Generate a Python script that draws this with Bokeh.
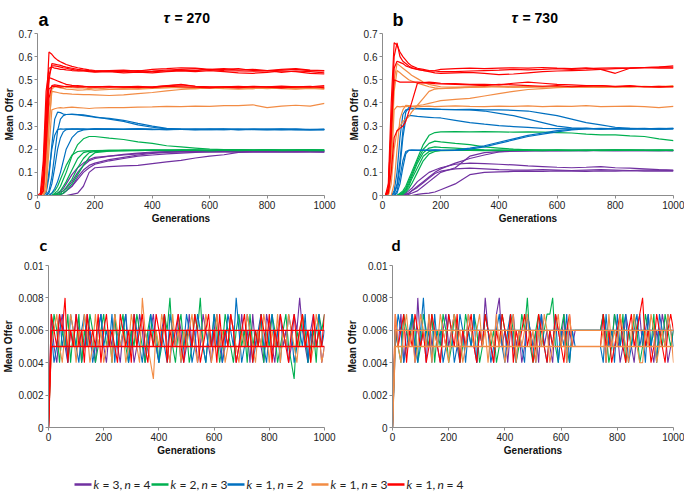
from bokeh.plotting import figure
from bokeh.layouts import column, row
from bokeh.models import Range1d, FixedTicker, CustomJSTickFormatter
from bokeh.core.properties import value
from bokeh.embed import file_html
from bokeh.resources import INLINE

# ---------------- data ----------------
GENS = [0, 10, 20, 30, 40, 50, 60, 70, 80, 90, 100,
        120, 140, 160, 180, 200,
        250, 300, 350, 400, 450, 500, 550, 600,
        650, 700, 750, 800, 850, 900, 950, 1000]

X_TICKS = [0, 200, 400, 600, 800, 1000]
Y_TICKS_TOP = [0, 0.1, 0.2, 0.3, 0.4, 0.5, 0.6, 0.7]
Y_TICKS_BOTTOM = [0, 0.002, 0.004, 0.006, 0.008, 0.01]

PANEL_LETTERS = ["a", "b", "c", "d"]
TAU_VALUES = ["270", "730"]
LEGEND_K = ["3", "2", "1", "1", "1"]
LEGEND_N = ["4", "3", "2", "3", "4"]

PURPLE, GREEN, BLUE, ORANGE, RED = "#7030A0", "#00B050", "#0070C0", "#F28C45", "#FF0000"
LEGEND_COLORS = [PURPLE, GREEN, BLUE, ORANGE, RED]

# panel a (tau = 270)
A_RED = [
    [0, 0, 0.08, 0.35, 0.62, 0.61, 0.595, 0.585, 0.578, 0.572, 0.566, 0.558, 0.552, 0.547, 0.543, 0.54, 0.536, 0.535, 0.54, 0.535, 0.538, 0.542, 0.54, 0.545, 0.54, 0.538, 0.537, 0.54, 0.532, 0.538, 0.535, 0.53],
    [0, 0, 0.02, 0.22, 0.5, 0.57, 0.568, 0.565, 0.562, 0.558, 0.555, 0.55, 0.545, 0.542, 0.54, 0.538, 0.54, 0.542, 0.538, 0.545, 0.548, 0.552, 0.55, 0.545, 0.548, 0.542, 0.545, 0.54, 0.545, 0.548, 0.542, 0.54],
    [0, 0, 0.05, 0.3, 0.52, 0.56, 0.56, 0.558, 0.555, 0.552, 0.55, 0.545, 0.54, 0.538, 0.535, 0.533, 0.535, 0.53, 0.533, 0.53, 0.535, 0.538, 0.535, 0.54, 0.535, 0.53, 0.528, 0.532, 0.538, 0.535, 0.528, 0.525],
    [0, 0.01, 0.15, 0.45, 0.55, 0.555, 0.55, 0.548, 0.545, 0.545, 0.543, 0.54, 0.538, 0.54, 0.537, 0.535, 0.538, 0.54, 0.536, 0.538, 0.542, 0.545, 0.548, 0.542, 0.545, 0.548, 0.54, 0.538, 0.542, 0.545, 0.54, 0.538],
    [0, 0, 0.1, 0.38, 0.51, 0.505, 0.5, 0.495, 0.49, 0.485, 0.48, 0.476, 0.473, 0.472, 0.47, 0.47, 0.468, 0.47, 0.472, 0.468, 0.475, 0.478, 0.472, 0.468, 0.47, 0.472, 0.468, 0.47, 0.473, 0.47, 0.468, 0.47],
    [0, 0, 0.04, 0.3, 0.46, 0.47, 0.472, 0.47, 0.468, 0.47, 0.472, 0.47, 0.468, 0.47, 0.468, 0.47, 0.472, 0.468, 0.47, 0.466, 0.472, 0.47, 0.468, 0.465, 0.47, 0.468, 0.472, 0.47, 0.466, 0.468, 0.47, 0.475],
    [0, 0, 0.02, 0.2, 0.42, 0.475, 0.478, 0.476, 0.474, 0.472, 0.47, 0.472, 0.475, 0.472, 0.47, 0.468, 0.47, 0.468, 0.466, 0.47, 0.474, 0.48, 0.472, 0.47, 0.468, 0.465, 0.47, 0.468, 0.465, 0.47, 0.472, 0.465],
]
A_ORANGE = [
    [0, 0, 0.01, 0.12, 0.38, 0.47, 0.472, 0.47, 0.468, 0.47, 0.468, 0.466, 0.465, 0.466, 0.462, 0.465, 0.46, 0.462, 0.46, 0.463, 0.465, 0.468, 0.466, 0.465, 0.468, 0.465, 0.462, 0.466, 0.465, 0.462, 0.465, 0.465],
    [0, 0, 0, 0.06, 0.3, 0.46, 0.47, 0.468, 0.465, 0.463, 0.46, 0.458, 0.455, 0.456, 0.458, 0.455, 0.458, 0.46, 0.462, 0.465, 0.468, 0.465, 0.462, 0.465, 0.462, 0.46, 0.462, 0.465, 0.462, 0.46, 0.463, 0.46],
    [0, 0, 0, 0.05, 0.3, 0.45, 0.448, 0.445, 0.442, 0.44, 0.44, 0.438, 0.437, 0.436, 0.436, 0.435, 0.432, 0.435, 0.44, 0.445, 0.452, 0.458, 0.462, 0.465, 0.465, 0.468, 0.465, 0.462, 0.465, 0.468, 0.465, 0.462],
    [0, 0, 0, 0.02, 0.2, 0.37, 0.375, 0.378, 0.38, 0.378, 0.38, 0.382, 0.38, 0.378, 0.376, 0.378, 0.38, 0.38, 0.382, 0.383, 0.385, 0.384, 0.386, 0.385, 0.388, 0.388, 0.392, 0.38, 0.386, 0.39, 0.386, 0.398],
]
A_BLUE = [
    [0, 0, 0, 0.01, 0.08, 0.22, 0.33, 0.36, 0.358, 0.352, 0.35, 0.352, 0.35, 0.348, 0.344, 0.34, 0.33, 0.32, 0.305, 0.295, 0.288, 0.286, 0.285, 0.286, 0.285, 0.287, 0.284, 0.286, 0.285, 0.287, 0.284, 0.285],
    [0, 0, 0, 0, 0.02, 0.08, 0.18, 0.28, 0.33, 0.345, 0.35, 0.35, 0.348, 0.345, 0.342, 0.338, 0.333, 0.325, 0.312, 0.3, 0.29, 0.287, 0.286, 0.285, 0.287, 0.285, 0.286, 0.285, 0.284, 0.286, 0.285, 0.285],
    [0, 0, 0, 0.02, 0.1, 0.2, 0.26, 0.285, 0.288, 0.287, 0.288, 0.287, 0.288, 0.286, 0.287, 0.288, 0.286, 0.287, 0.288, 0.286, 0.285, 0.287, 0.285, 0.286, 0.288, 0.285, 0.286, 0.287, 0.285, 0.286, 0.284, 0.286],
    [0, 0, 0, 0, 0.01, 0.05, 0.12, 0.2, 0.25, 0.275, 0.285, 0.288, 0.287, 0.288, 0.286, 0.287, 0.288, 0.286, 0.287, 0.285, 0.287, 0.286, 0.285, 0.288, 0.286, 0.285, 0.287, 0.286, 0.288, 0.285, 0.286, 0.285],
    [0, 0, 0, 0, 0, 0.01, 0.03, 0.06, 0.1, 0.15, 0.2, 0.25, 0.275, 0.283, 0.286, 0.288, 0.287, 0.286, 0.288, 0.287, 0.285, 0.286, 0.288, 0.286, 0.285, 0.287, 0.286, 0.285, 0.287, 0.286, 0.285, 0.287],
]
A_GREEN = [
    [0, 0, 0, 0, 0, 0, 0.01, 0.02, 0.04, 0.07, 0.1, 0.17, 0.22, 0.245, 0.255, 0.255, 0.248, 0.242, 0.232, 0.225, 0.215, 0.21, 0.205, 0.2, 0.198, 0.198, 0.197, 0.198, 0.196, 0.197, 0.198, 0.197],
    [0, 0, 0, 0, 0, 0.01, 0.02, 0.04, 0.07, 0.1, 0.13, 0.175, 0.19, 0.193, 0.193, 0.194, 0.195, 0.196, 0.195, 0.196, 0.195, 0.197, 0.196, 0.195, 0.197, 0.196, 0.195, 0.196, 0.197, 0.195, 0.196, 0.195],
    [0, 0, 0, 0, 0, 0, 0.005, 0.01, 0.02, 0.04, 0.06, 0.11, 0.16, 0.185, 0.192, 0.193, 0.195, 0.194, 0.196, 0.195, 0.197, 0.195, 0.196, 0.194, 0.195, 0.196, 0.195, 0.197, 0.195, 0.196, 0.194, 0.195],
    [0, 0, 0, 0, 0, 0, 0, 0.005, 0.01, 0.02, 0.035, 0.07, 0.12, 0.16, 0.185, 0.19, 0.193, 0.194, 0.195, 0.196, 0.194, 0.195, 0.197, 0.196, 0.195, 0.194, 0.196, 0.195, 0.196, 0.197, 0.195, 0.194],
    [0, 0, 0, 0, 0, 0, 0, 0, 0.005, 0.01, 0.02, 0.05, 0.09, 0.13, 0.165, 0.185, 0.192, 0.195, 0.194, 0.196, 0.195, 0.197, 0.195, 0.194, 0.196, 0.197, 0.195, 0.196, 0.194, 0.195, 0.197, 0.196],
]
A_PURPLE = [
    [0, 0, 0, 0, 0, 0, 0, 0.01, 0.015, 0.02, 0.03, 0.06, 0.1, 0.13, 0.15, 0.16, 0.17, 0.178, 0.183, 0.188, 0.19, 0.19, 0.189, 0.188, 0.19, 0.191, 0.189, 0.19, 0.188, 0.19, 0.189, 0.188],
    [0, 0, 0, 0, 0, 0, 0.005, 0.01, 0.02, 0.03, 0.05, 0.09, 0.12, 0.14, 0.155, 0.165, 0.17, 0.175, 0.18, 0.185, 0.188, 0.19, 0.19, 0.189, 0.19, 0.191, 0.19, 0.188, 0.19, 0.191, 0.19, 0.19],
    [0, 0, 0, 0, 0, 0, 0, 0, 0.005, 0.01, 0.02, 0.04, 0.07, 0.1, 0.12, 0.135, 0.15, 0.16, 0.17, 0.175, 0.18, 0.183, 0.186, 0.19, 0.189, 0.19, 0.188, 0.19, 0.191, 0.189, 0.19, 0.188],
    [0, 0, 0, 0, 0, 0, 0, 0, 0, 0, 0, 0.005, 0.01, 0.04, 0.1, 0.12, 0.125, 0.128, 0.13, 0.138, 0.145, 0.152, 0.162, 0.17, 0.176, 0.186, 0.19, 0.189, 0.19, 0.188, 0.19, 0.189],
    [0, 0, 0, 0, 0, 0, 0, 0, 0.005, 0.01, 0.02, 0.04, 0.08, 0.11, 0.13, 0.14, 0.155, 0.165, 0.175, 0.182, 0.186, 0.188, 0.19, 0.189, 0.19, 0.188, 0.19, 0.189, 0.19, 0.191, 0.189, 0.19],
]

# panel b (tau = 730)
B_RED = [
    [0, 0, 0.05, 0.4, 0.66, 0.65, 0.62, 0.6, 0.585, 0.57, 0.56, 0.55, 0.545, 0.54, 0.538, 0.535, 0.535, 0.538, 0.54, 0.542, 0.545, 0.543, 0.545, 0.548, 0.545, 0.548, 0.55, 0.552, 0.55, 0.553, 0.555, 0.555],
    [0, 0, 0.03, 0.3, 0.6, 0.66, 0.6, 0.58, 0.57, 0.56, 0.553, 0.545, 0.54, 0.535, 0.53, 0.528, 0.53, 0.532, 0.528, 0.522, 0.525, 0.53, 0.535, 0.538, 0.54, 0.542, 0.545, 0.548, 0.55, 0.552, 0.55, 0.55],
    [0, 0, 0.02, 0.25, 0.55, 0.58, 0.575, 0.57, 0.56, 0.555, 0.55, 0.545, 0.54, 0.538, 0.54, 0.545, 0.548, 0.55, 0.548, 0.55, 0.552, 0.55, 0.553, 0.55, 0.548, 0.552, 0.545, 0.528, 0.55, 0.553, 0.555, 0.56],
    [0, 0, 0.03, 0.3, 0.5, 0.495, 0.49, 0.49, 0.49, 0.49, 0.49, 0.49, 0.488, 0.49, 0.488, 0.485, 0.483, 0.48, 0.48, 0.478, 0.485, 0.49, 0.485, 0.48, 0.478, 0.475, 0.475, 0.472, 0.475, 0.47, 0.472, 0.47],
    [0, 0, 0.01, 0.1, 0.25, 0.28, 0.29, 0.3, 0.32, 0.36, 0.4, 0.485, 0.488, 0.485, 0.483, 0.482, 0.48, 0.478, 0.475, 0.48, 0.478, 0.475, 0.472, 0.475, 0.47, 0.472, 0.475, 0.47, 0.472, 0.47, 0.468, 0.47],
]
B_ORANGE = [
    [0, 0, 0.02, 0.2, 0.5, 0.57, 0.56, 0.55, 0.54, 0.53, 0.52, 0.505, 0.49, 0.48, 0.475, 0.47, 0.468, 0.47, 0.472, 0.47, 0.468, 0.47, 0.472, 0.47, 0.468, 0.47, 0.472, 0.47, 0.468, 0.47, 0.472, 0.47],
    [0, 0, 0.01, 0.15, 0.45, 0.54, 0.53, 0.52, 0.51, 0.5, 0.495, 0.485, 0.478, 0.47, 0.465, 0.462, 0.465, 0.468, 0.47, 0.472, 0.47, 0.468, 0.47, 0.472, 0.47, 0.468, 0.47, 0.468, 0.47, 0.472, 0.47, 0.475],
    [0, 0, 0, 0.05, 0.2, 0.28, 0.3, 0.32, 0.33, 0.34, 0.36, 0.39, 0.42, 0.45, 0.46, 0.463, 0.465, 0.467, 0.468, 0.47, 0.468, 0.47, 0.468, 0.47, 0.472, 0.47, 0.468, 0.47, 0.472, 0.47, 0.468, 0.472],
    [0, 0, 0, 0.1, 0.37, 0.385, 0.383, 0.385, 0.384, 0.386, 0.385, 0.383, 0.385, 0.386, 0.384, 0.385, 0.387, 0.385, 0.384, 0.386, 0.385, 0.387, 0.384, 0.386, 0.385, 0.388, 0.384, 0.385, 0.386, 0.384, 0.38, 0.385],
    [0, 0, 0, 0, 0.05, 0.2, 0.33, 0.37, 0.39, 0.388, 0.385, 0.388, 0.392, 0.398, 0.404, 0.41, 0.415, 0.42, 0.43, 0.44, 0.45, 0.458, 0.462, 0.466, 0.468, 0.47, 0.468, 0.47, 0.472, 0.47, 0.468, 0.47],
]
B_BLUE = [
    [0, 0, 0, 0, 0.02, 0.1, 0.25, 0.35, 0.37, 0.372, 0.375, 0.374, 0.373, 0.374, 0.372, 0.372, 0.371, 0.372, 0.37, 0.37, 0.368, 0.365, 0.355, 0.345, 0.33, 0.315, 0.305, 0.295, 0.29, 0.289, 0.288, 0.29],
    [0, 0, 0, 0, 0.01, 0.05, 0.15, 0.28, 0.36, 0.38, 0.378, 0.376, 0.375, 0.374, 0.373, 0.372, 0.371, 0.37, 0.365, 0.355, 0.345, 0.33, 0.315, 0.3, 0.292, 0.29, 0.288, 0.29, 0.287, 0.289, 0.288, 0.288],
    [0, 0, 0, 0, 0.01, 0.04, 0.12, 0.25, 0.33, 0.345, 0.345, 0.342, 0.34, 0.338, 0.336, 0.335, 0.325, 0.315, 0.308, 0.302, 0.298, 0.294, 0.29, 0.289, 0.288, 0.29, 0.287, 0.289, 0.288, 0.29, 0.287, 0.289],
    [0, 0, 0, 0, 0, 0.02, 0.08, 0.15, 0.19, 0.195, 0.196, 0.196, 0.195, 0.196, 0.197, 0.196, 0.195, 0.2, 0.21, 0.225, 0.24, 0.255, 0.265, 0.275, 0.283, 0.288, 0.29, 0.288, 0.29, 0.289, 0.288, 0.29],
    [0, 0, 0, 0, 0, 0.01, 0.05, 0.12, 0.18, 0.195, 0.196, 0.195, 0.196, 0.195, 0.196, 0.195, 0.196, 0.205, 0.215, 0.23, 0.245, 0.26, 0.27, 0.28, 0.286, 0.29, 0.288, 0.29, 0.289, 0.288, 0.29, 0.289],
]
B_GREEN = [
    [0, 0, 0, 0, 0, 0, 0.01, 0.02, 0.04, 0.07, 0.1, 0.16, 0.22, 0.26, 0.272, 0.275, 0.276, 0.275, 0.276, 0.275, 0.274, 0.275, 0.274, 0.272, 0.27, 0.265, 0.262, 0.262, 0.258, 0.255, 0.245, 0.237],
    [0, 0, 0, 0, 0, 0, 0.005, 0.015, 0.03, 0.06, 0.09, 0.15, 0.2, 0.225, 0.235, 0.232, 0.225, 0.22, 0.21, 0.205, 0.2, 0.197, 0.196, 0.195, 0.196, 0.195, 0.196, 0.197, 0.195, 0.196, 0.195, 0.196],
    [0, 0, 0, 0, 0, 0, 0.005, 0.01, 0.025, 0.05, 0.08, 0.14, 0.185, 0.205, 0.21, 0.208, 0.205, 0.2, 0.197, 0.196, 0.195, 0.196, 0.195, 0.197, 0.195, 0.196, 0.194, 0.195, 0.196, 0.195, 0.197, 0.195],
    [0, 0, 0, 0, 0, 0, 0, 0.01, 0.02, 0.04, 0.07, 0.12, 0.17, 0.19, 0.194, 0.195, 0.196, 0.195, 0.194, 0.196, 0.195, 0.197, 0.196, 0.195, 0.194, 0.196, 0.195, 0.197, 0.196, 0.195, 0.196, 0.194],
    [0, 0, 0, 0, 0, 0, 0, 0.005, 0.015, 0.03, 0.05, 0.1, 0.15, 0.18, 0.19, 0.194, 0.195, 0.196, 0.195, 0.194, 0.196, 0.195, 0.194, 0.196, 0.195, 0.194, 0.196, 0.195, 0.197, 0.195, 0.194, 0.196],
]
B_PURPLE = [
    [0, 0, 0, 0, 0, 0, 0, 0.005, 0.01, 0.02, 0.03, 0.06, 0.08, 0.1, 0.11, 0.12, 0.135, 0.14, 0.138, 0.135, 0.132, 0.128, 0.125, 0.122, 0.12, 0.122, 0.125, 0.12, 0.118, 0.115, 0.112, 0.11],
    [0, 0, 0, 0, 0, 0, 0, 0, 0.005, 0.01, 0.02, 0.04, 0.06, 0.08, 0.1, 0.115, 0.14, 0.16, 0.175, 0.188, 0.192, 0.193, 0.195, 0.194, 0.195, 0.194, 0.196, 0.195, 0.194, 0.195, 0.194, 0.195],
    [0, 0, 0, 0, 0, 0, 0, 0, 0, 0.005, 0.01, 0.02, 0.04, 0.06, 0.08, 0.1, 0.12, 0.17, 0.185, 0.19, 0.192, 0.193, 0.194, 0.193, 0.194, 0.195, 0.194, 0.193, 0.194, 0.195, 0.194, 0.193],
    [0, 0, 0, 0, 0, 0, 0, 0, 0, 0, 0, 0.005, 0.008, 0.01, 0.015, 0.025, 0.05, 0.09, 0.1, 0.102, 0.104, 0.105, 0.104, 0.106, 0.105, 0.104, 0.106, 0.105, 0.107, 0.105, 0.106, 0.105],
    [0, 0, 0, 0, 0, 0, 0, 0, 0.005, 0.01, 0.02, 0.035, 0.055, 0.075, 0.095, 0.105, 0.115, 0.118, 0.115, 0.112, 0.11, 0.11, 0.112, 0.11, 0.108, 0.11, 0.112, 0.11, 0.108, 0.11, 0.11, 0.108],
]

# panels c and d: mean offer every 10 generations, in thousandths
C_PURPLE = [0, 7, 5, 4, 6, 7, 5, 4, 6, 5, 7, 6, 4, 5, 7, 6, 5, 4, 6, 7, 5, 4, 6, 5, 7, 5, 4, 6, 7, 5, 6,
            4, 5, 7, 6, 4, 5, 6, 7, 5, 4, 6, 7, 5, 4, 6, 5, 7, 6, 4, 5, 7, 5, 6, 4, 5, 7, 6, 5, 4, 6,
            7, 5, 4, 6, 5, 7, 6, 4, 5, 7, 5, 6, 4, 7, 5, 6, 5, 4, 7, 6, 5, 4, 6, 7, 5, 6, 4, 5, 7, 6,
            8, 6, 5, 4, 6, 7, 5, 6, 4, 5]
C_GREEN = [0, 5, 7, 6, 4, 6, 5, 7, 4, 6, 5, 7, 4, 6, 5, 7, 6, 4, 5, 6, 7, 5, 6, 4, 7, 5, 6, 7, 5, 4, 6,
           5, 7, 6, 5, 4, 6, 7, 5, 6, 4, 5, 7, 6, 8, 5, 4, 6, 7, 5, 6, 4, 5, 7, 6, 8, 5, 4, 6, 5, 7,
           6, 4, 5, 7, 6, 5, 4, 6, 7, 5, 6, 4, 7, 5, 6, 5, 7, 4, 6, 5, 7, 6, 4, 5, 6, 7, 5, 4, 3, 6,
           5, 7, 6, 4, 5, 6, 4, 7, 6, 7]
C_BLUE = [0, 6, 4, 5, 7, 5, 6, 4, 7, 6, 5, 4, 6, 7, 5, 6, 4, 5, 6, 7, 5, 6, 5, 7, 4, 6, 5, 6, 7, 4, 5,
          7, 6, 5, 4, 6, 5, 7, 6, 5, 4, 6, 5, 4, 7, 6, 5, 6, 4, 5, 7, 6, 4, 5, 7, 6, 5, 4, 6, 5, 7,
          5, 6, 4, 5, 7, 6, 5, 8, 6, 4, 5, 7, 6, 4, 5, 6, 7, 5, 4, 6, 7, 5, 6, 4, 6, 5, 7, 6, 4, 5,
          6, 5, 7, 4, 6, 5, 6, 7, 5, 6]
C_ORANGE = [0, 5, 6, 7, 5, 4, 6, 5, 7, 6, 4, 6, 5, 7, 6, 4, 5, 7, 5, 6, 4, 5, 6, 4, 7, 6, 5, 6, 4, 5, 7,
            6, 5, 4, 8, 6, 5, 4, 3, 6, 5, 7, 6, 5, 4, 7, 5, 6, 4, 6, 5, 6, 7, 5, 4, 6, 5, 7, 6, 4, 5,
            7, 5, 6, 4, 5, 7, 6, 5, 4, 6, 5, 7, 6, 5, 4, 6, 5, 7, 6, 4, 6, 5, 7, 4, 6, 5, 7, 6, 5, 4,
            6, 7, 5, 6, 4, 5, 7, 6, 4, 5]
C_RED = [0, 7, 6, 5, 7, 6, 8, 4, 6, 5, 7, 5, 6, 4, 7, 5, 6, 5, 7, 4, 6, 7, 5, 6, 5, 4, 7, 6, 5, 6, 4,
         7, 5, 6, 7, 5, 4, 6, 5, 7, 6, 5, 7, 4, 6, 5, 6, 7, 5, 4, 6, 6, 5, 7, 6, 4, 5, 6, 7, 5, 6,
         4, 7, 5, 6, 5, 7, 6, 4, 5, 6, 7, 5, 6, 4, 6, 5, 7, 6, 5, 7, 4, 6, 5, 7, 6, 5, 4, 6, 7, 5,
         6, 7, 5, 6, 4, 7, 5, 6, 5, 7]
D_PURPLE = [0, 6, 5, 7, 4, 6, 5, 7, 4, 8, 5, 6, 4, 7, 5, 6, 5, 4, 6, 7, 5, 6, 7, 5, 4, 6, 5, 7, 6, 5, 4,
            6, 5, 8, 6, 5, 4, 7, 8, 5, 6, 4, 6, 7, 5, 6, 4, 5, 7, 6, 5, 6, 4, 7, 5, 6, 5, 4, 7, 6, 5,
            7, 4, 6, 5, 6, 6, 6, 6, 6, 6, 6, 6, 6, 6, 7, 4, 6, 5, 7, 6, 4, 5, 7, 6, 5, 4, 6, 7, 5, 6,
            7, 5, 4, 6, 5, 7, 6, 4, 5, 6]
D_BLUE = [0, 5, 7, 6, 4, 5, 6, 7, 5, 4, 6, 8, 5, 6, 4, 7, 5, 6, 4, 5, 7, 6, 4, 5, 7, 6, 4, 6, 5, 7, 4,
          6, 5, 7, 6, 4, 5, 6, 7, 5, 4, 6, 7, 5, 4, 6, 5, 4, 7, 6, 5, 4, 6, 7, 5, 4, 6, 5, 7, 4, 6,
          5, 7, 4, 6, 5, 5, 5, 5, 5, 5, 5, 5, 5, 5, 4, 7, 5, 6, 4, 7, 5, 6, 7, 4, 5, 6, 7, 5, 6, 4,
          7, 5, 6, 4, 7, 6, 5, 7, 6, 5]
D_GREEN = [0, 6, 5, 4, 7, 6, 5, 7, 6, 4, 5, 7, 6, 5, 7, 4, 6, 5, 7, 6, 4, 5, 7, 6, 4, 5, 7, 6, 5, 7, 6,
           4, 5, 7, 6, 5, 6, 4, 5, 7, 6, 5, 7, 6, 4, 5, 7, 6, 8, 5, 4, 6, 7, 5, 6, 7, 7, 8, 5, 4, 6,
           7, 5, 4, 6, 6, 6, 6, 6, 6, 6, 6, 6, 6, 6, 7, 6, 4, 5, 7, 6, 5, 7, 4, 6, 5, 7, 6, 4, 5, 7,
           6, 5, 7, 4, 6, 5, 7, 6, 5, 6]
D_RED = [0, 7, 5, 6, 7, 4, 6, 5, 7, 6, 5, 6, 4, 5, 7, 6, 5, 4, 6, 5, 7, 6, 5, 7, 4, 6, 5, 6, 7, 5, 4,
         6, 5, 7, 6, 5, 4, 6, 5, 7, 6, 5, 7, 4, 6, 5, 6, 7, 5, 6, 4, 5, 7, 6, 5, 4, 6, 5, 7, 6, 5,
         4, 6, 7, 5, 5, 5, 5, 5, 5, 5, 5, 5, 5, 5, 7, 5, 6, 4, 5, 6, 7, 5, 4, 6, 7, 5, 6, 7, 8, 5,
         6, 4, 5, 7, 6, 5, 4, 6, 7, 6]
D_ORANGE = [0, 7, 5, 4, 6, 7, 5, 6, 4, 5, 7, 6, 5, 7, 4, 6, 5, 7, 6, 5, 4, 6, 7, 5, 6, 4, 5, 7, 6, 5, 6,
            7, 5, 6, 4, 6, 5, 7, 5, 6, 4, 5, 6, 7, 4, 6, 5, 6, 7, 5, 6, 4, 6, 5, 7, 6, 4, 5, 6, 7, 5,
            6, 4, 7, 5, 5, 5, 5, 5, 5, 5, 5, 5, 5, 5, 6, 4, 7, 5, 6, 5, 7, 6, 5, 4, 6, 7, 5, 4, 4, 6,
            5, 7, 6, 4, 5, 6, 5, 7, 6, 4]

FLAT_GENS = [0, 10, 1000]
C_RED_FLAT = [[0, 0.005, 0.005], [0, 0.006, 0.006]]
D_BLUE_FLAT = [[0, 0.006, 0.006]]
D_ORANGE_FLAT = [[0, 0.005, 0.005], [0, 0.006, 0.006]]

# ---------------- styling helpers ----------------
AX_FONT = "Liberation Sans"
FMT = CustomJSTickFormatter(code="return String(parseFloat(tick.toPrecision(6)));")
TOTAL_W = 684


def make_panel(width, height, mbl, mbr, mbt, mbb, ymax, yticks):
    p = figure(width=width, height=height, x_range=Range1d(0, 1000), y_range=Range1d(0, ymax),
               toolbar_location=None, output_backend="svg",
               min_border_left=mbl, min_border_right=mbr, min_border_top=mbt, min_border_bottom=mbb)
    p.outline_line_color = None
    p.grid.visible = False
    p.xaxis.ticker = FixedTicker(ticks=X_TICKS)
    p.yaxis.ticker = FixedTicker(ticks=yticks)
    p.yaxis.formatter = FMT
    p.xaxis.axis_label = "Generations"
    p.yaxis.axis_label = "Mean Offer"
    for ax in p.axis:
        ax.axis_line_color = "#8c8c8c"
        ax.major_tick_line_color = "#8c8c8c"
        ax.minor_tick_line_color = None
        ax.major_tick_out = 3
        ax.major_tick_in = 0
        ax.major_label_standoff = 2
        ax.axis_label_standoff = 1
        ax.major_label_text_font = AX_FONT
        ax.major_label_text_font_size = "10px"
        ax.major_label_text_color = "#222222"
        ax.axis_label_text_font = AX_FONT
        ax.axis_label_text_font_size = "10px"
        ax.axis_label_text_font_style = "bold"
        ax.axis_label_text_color = "#111111"
    return p


def make_strip(height):
    s = figure(width=TOTAL_W, height=height, x_range=Range1d(0, TOTAL_W), y_range=Range1d(0, height),
               toolbar_location=None, output_backend="svg", min_border=0,
               x_axis_location=None, y_axis_location=None)
    s.outline_line_color = None
    s.grid.visible = False
    return s


def add_lines(p, xs, groups, lw=1.2):
    for color, lines in groups:
        for ys in lines:
            p.line(xs, ys, line_color=color, line_width=lw)


def add_noise(p, groups, lw=1.1):
    for color, series in groups:
        xs = list(range(0, 10 * len(series), 10))
        p.line(xs, [v / 1000 for v in series], line_color=color, line_width=lw)


# ---------------- title strip (a, b) ----------------
t1 = make_strip(29)
t1.text(x=[38, 392], y=[10, 10], text=PANEL_LETTERS[:2], text_font=value(AX_FONT), text_font_style="bold",
        text_font_size="18px", text_baseline="alphabetic", text_align="left", text_color="black")
t1.text(x=[163, 511], y=[12, 12], text=["τ", "τ"], text_font=value(AX_FONT), text_font_style="bold italic",
        text_font_size="15px", text_baseline="alphabetic", text_align="left", text_color="black")
t1.text(x=[174, 522], y=[12, 12], text=["= " + t for t in TAU_VALUES], text_font=value(AX_FONT),
        text_font_style="bold", text_font_size="14px", text_baseline="alphabetic", text_align="left",
        text_color="black")

# ---------------- panels a, b ----------------
pa = make_panel(343, 197, 33, 19, 4, 29, 0.7, Y_TICKS_TOP)
add_lines(pa, GENS, [(PURPLE, A_PURPLE), (GREEN, A_GREEN), (BLUE, A_BLUE), (ORANGE, A_ORANGE), (RED, A_RED)])

pb = make_panel(TOTAL_W - 343, 197, 39, 11, 4, 29, 0.7, Y_TICKS_TOP)
add_lines(pb, GENS, [(PURPLE, B_PURPLE), (GREEN, B_GREEN), (BLUE, B_BLUE), (ORANGE, B_ORANGE), (RED, B_RED)])

# ---------------- title strip (c, d) ----------------
t2 = make_strip(29)
t2.text(x=[39, 391], y=[11, 11], text=PANEL_LETTERS[2:], text_font=value("Lato"), text_font_style="bold",
        text_font_size="16px", text_baseline="alphabetic", text_align="left", text_color="black")

# ---------------- panels c, d ----------------
pc = make_panel(343, 203, 43, 19, 10, 29, 0.01, Y_TICKS_BOTTOM)
add_noise(pc, [(PURPLE, C_PURPLE), (GREEN, C_GREEN), (BLUE, C_BLUE), (ORANGE, C_ORANGE), (RED, C_RED)])
add_lines(pc, FLAT_GENS, [(RED, C_RED_FLAT)], lw=1.3)

pd = make_panel(TOTAL_W - 343, 203, 49, 11, 10, 29, 0.01, Y_TICKS_BOTTOM)
add_noise(pd, [(PURPLE, D_PURPLE), (GREEN, D_GREEN), (BLUE, D_BLUE), (RED, D_RED), (ORANGE, D_ORANGE)])
add_lines(pd, FLAT_GENS, [(BLUE, D_BLUE_FLAT), (ORANGE, D_ORANGE_FLAT)], lw=1.3)

# ---------------- legend strip ----------------
pl = make_strip(33)
starts = [74, 151, 227, 311, 387]
ly = 7
for x0, k, n, c in zip(starts, LEGEND_K, LEGEND_N, LEGEND_COLORS):
    pl.segment(x0=[x0], y0=[ly], x1=[x0 + 17], y1=[ly], line_color=c, line_width=2.5)
    pl.text(x=[x0 + 19, x0 + 50], y=[ly, ly], text=["k", "n"], text_font=value("Lato"),
            text_font_style="italic", text_font_size="12px", text_baseline="middle", text_align="left",
            text_color="#222222")
    pl.text(x=[x0 + 28, x0 + 59], y=[ly, ly], text=["= " + k + ",", "= " + n], text_font=value("Lato"),
            text_font_size="12px", text_baseline="middle", text_align="left", text_color="#222222")

layout = column(t1, row(pa, pb), t2, row(pc, pd), pl)
open("out.html", "w").write(file_html(layout, INLINE))
